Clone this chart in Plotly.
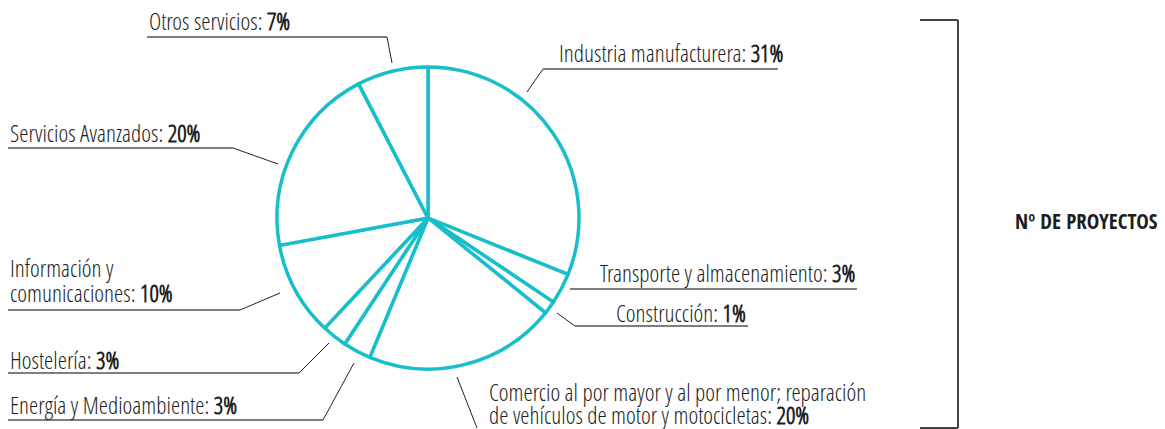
import plotly.graph_objects as go

# ---- data ----
sectors = [
    "Industria manufacturera",
    "Transporte y almacenamiento",
    "Construcción",
    "Comercio al por mayor y al por menor; reparación de vehículos de motor y motocicletas",
    "Energía y Medioambiente",
    "Hostelería",
    "Información y comunicaciones",
    "Servicios Avanzados",
    "Otros servicios",
]
shares = [31.1, 3.3, 1.4, 20.5, 3.0, 2.7, 10.1, 20.3, 7.6]
shown_pct = [31, 3, 1, 20, 3, 3, 10, 20, 7]
label_lines = [
    ["Industria manufacturera"],
    ["Transporte y almacenamiento"],
    ["Construcción"],
    ["Comercio al por mayor y al por menor; reparación", "de vehículos de motor y motocicletas"],
    ["Energía y Medioambiente"],
    ["Hostelería"],
    ["Información y", "comunicaciones"],
    ["Servicios Avanzados"],
    ["Otros servicios"],
]
side_title = "Nº DE PROYECTOS"

W, H = 1165, 429
TEAL = "#17BFCA"
FONT = "Open Sans Condensed Light, Roboto Condensed, sans-serif"
FONT_BOLD = "Open Sans Condensed, Roboto Condensed, sans-serif"

def px(x):
    return x / W

def py(y):
    return 1 - y / H

cx, cy, r = 428, 218, 151

fig = go.Figure(go.Pie(
    labels=sectors, values=shares, sort=False, direction="clockwise", rotation=0,
    marker=dict(colors=["white"] * len(shares), line=dict(color=TEAL, width=3.5)),
    textinfo="none", hoverinfo="label+percent", showlegend=False,
    domain=dict(x=[px(cx - r), px(cx + r)], y=[py(cy + r), py(cy - r)]),
))

# label layout: (text x, anchor, first-line y, line step, underline [x0,x1,y] or None, leader [x0,y0,x1,y1] or None)
layout_spec = [
    (557, "left", 53, 0, (543, 778, 69), (543, 69, 527, 92)),
    (857, "right", 273, 0, (570, 857, 289), None),
    (748, "right", 313, 0, (575, 748, 326), (575, 326, 557, 313)),
    (487, "left", 392, 23, None, (457, 377, 477, 428)),
    (8, "left", 405, 0, (8, 323, 420), (323, 420, 354, 363)),
    (8, "left", 360, 0, (8, 299, 373), (299, 373, 329, 343)),
    (8, "left", 268, 25, (8, 240, 310), (240, 310, 280, 293)),
    (8, "left", 133, 0, (8, 233, 148), (233, 148, 278, 164)),
    (147, "left", 21, 0, (147, 387, 37), (387, 37, 392, 63)),
]

annotations = []
shapes = []
for lines, pct, (tx, anc, ty, step, ul, ld) in zip(label_lines, shown_pct, layout_spec):
    for k, line in enumerate(lines):
        txt = line + (f": <b>{pct}%</b>" if k == len(lines) - 1 else "")
        annotations.append(dict(
            x=px(tx), y=py(ty + k * step), xref="paper", yref="paper", xanchor=anc, yanchor="middle",
            text=txt, showarrow=False, align="left",
            font=dict(family=FONT, size=23.5, color="#1e1e1e"),
        ))
    if ul:
        shapes.append(dict(type="line", xref="paper", yref="paper",
                           x0=px(ul[0]), x1=px(ul[1]), y0=py(ul[2]), y1=py(ul[2]),
                           line=dict(color="#555", width=1.5)))
    if ld:
        shapes.append(dict(type="line", xref="paper", yref="paper",
                           x0=px(ld[0]), y0=py(ld[1]), x1=px(ld[2]), y1=py(ld[3]),
                           line=dict(color="#222", width=1)))

# bracket
for (x0, y0, x1, y1) in [(920, 20, 958, 20), (958, 20, 958, 428), (920, 428, 958, 428)]:
    shapes.append(dict(type="line", xref="paper", yref="paper",
                       x0=px(x0), y0=py(y0), x1=px(x1), y1=py(y1),
                       line=dict(color="#444", width=2)))

annotations.append(dict(
    x=px(1160), y=py(221), xref="paper", yref="paper", xanchor="right", yanchor="middle",
    text=side_title, showarrow=False,
    font=dict(family=FONT_BOLD, size=21, color="#1e1e1e", weight="bold"),
))

fig.update_layout(
    width=W, height=H, margin=dict(l=0, r=0, t=0, b=0),
    paper_bgcolor="white", plot_bgcolor="white",
    annotations=annotations, shapes=shapes,
)

fig.write_html("out.html", config={"displayModeBar": False},
               post_script="document.body.style.margin='0';")
